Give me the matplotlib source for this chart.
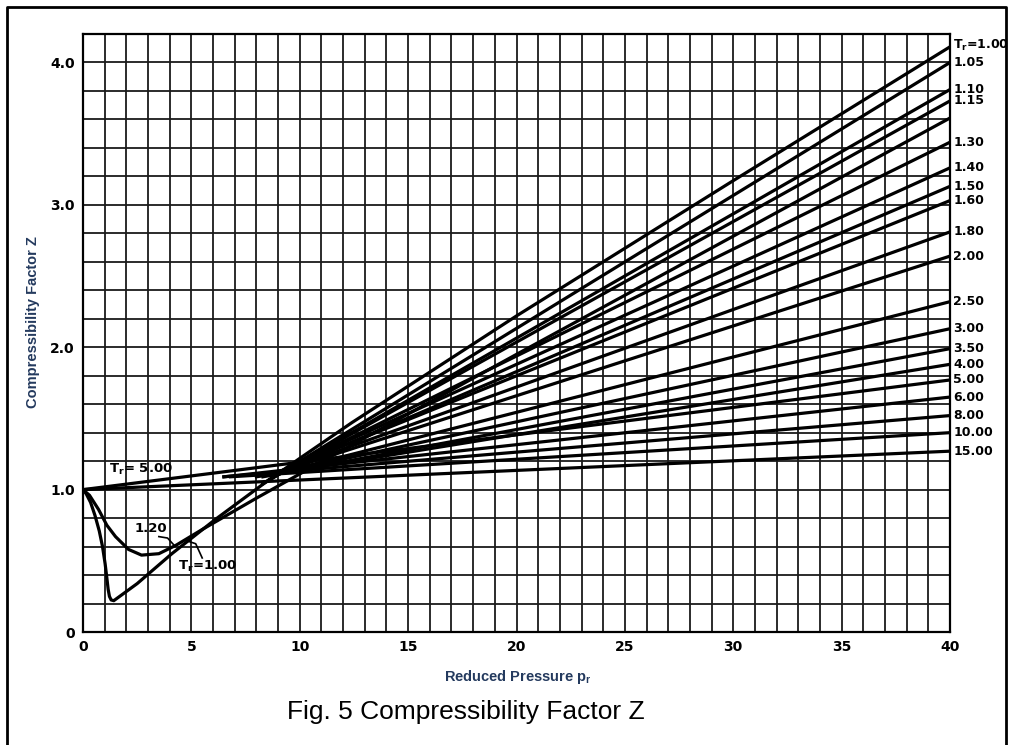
import numpy as np
import matplotlib.pyplot as plt
from matplotlib.lines import Line2D

# reduced temperature labels on the right edge and the value of Z at pr = 40
tr_labels = ['1.05', '1.10', '1.15', '1.30', '1.40', '1.50', '1.60', '1.80',
             '2.00', '2.50', '3.00', '3.50', '4.00', '5.00', '6.00', '8.00',
             '10.00', '15.00']
z_at_40 = [4.00, 3.81, 3.73, 3.44, 3.26, 3.13, 3.03, 2.81,
           2.64, 2.32, 2.13, 1.99, 1.88, 1.77, 1.65, 1.52,
           1.40, 1.27]
# where each straight line starts (pr, Z)
pr_start = [8.3, 8.5, 8.6, 8.7, 8.7, 8.8, 8.8, 8.8,
            8.8, 8.6, 8.5, 8.3, 8.0, 0.0, 6.5, 6.5,
            6.8, 0.0]
z_start = [1.04, 1.06, 1.07, 1.09, 1.10, 1.10, 1.11, 1.11,
           1.11, 1.10, 1.10, 1.09, 1.09, 1.00, 1.09, 1.09,
           1.09, 1.00]

# Tr = 1.00 curve
pr_100 = [0.0, 0.15, 0.35, 0.55, 0.75, 0.9, 1.02, 1.1, 1.16, 1.22, 1.3, 1.42,
          2.5, 4.1, 6.1, 8.5, 10.1, 12.4, 20.0, 30.0, 40.0]
z_100 = [1.00, 0.97, 0.91, 0.82, 0.71, 0.60, 0.48, 0.38, 0.30, 0.25, 0.225, 0.22,
         0.34, 0.55, 0.79, 1.06, 1.23, 1.47, 2.22, 3.17, 4.11]

# Tr = 1.20 curve
pr_120 = [0.0, 0.3, 0.72, 1.1, 1.5, 2.1, 2.7, 3.5, 4.3, 5.5, 8.0, 12.0, 20.0, 30.0, 40.0]
z_120 = [1.00, 0.96, 0.86, 0.75, 0.67, 0.58, 0.54, 0.55, 0.61, 0.72, 0.94, 1.28, 1.95, 2.78, 3.61]

fig = plt.figure(figsize=(10.14, 7.45), dpi=100)
ax = fig.add_axes([83/1014, 113/745, 867/1014, 598/745])

ax.set_xlim(0, 40)
ax.set_ylim(0, 4.2)
ax.set_xticks(np.arange(0, 41, 5))
ax.set_xticks(np.arange(0, 41, 1), minor=True)
ax.set_yticks([0, 1, 2, 3, 4])
ax.set_yticks(np.arange(0, 4.21, 0.2), minor=True)
ax.set_xticklabels(['0', '5', '10', '15', '20', '25', '30', '35', '40'])
ax.set_yticklabels(['0', '1.0', '2.0', '3.0', '4.0'])
ax.grid(which='both', color='#1a1a1a', lw=1.3)
ax.tick_params(which='both', length=0, labelsize=10, pad=6)
for lab in ax.get_xticklabels() + ax.get_yticklabels():
    lab.set_fontweight('bold')
for s in ax.spines.values():
    s.set_linewidth(1.6)

lw = 2.3
ax.plot(pr_100, z_100, color='k', lw=lw, solid_joinstyle='round')
ax.plot(pr_120, z_120, color='k', lw=lw, solid_joinstyle='round')
for i in range(len(tr_labels)):
    ax.plot([pr_start[i], 40], [z_start[i], z_at_40[i]], color='k', lw=lw)

# labels at the right edge
ax.text(40.15, 4.12, 'T$_\\mathregular{r}$=1.00', fontsize=9, fontweight='bold',
        va='center', ha='left', clip_on=False)
for lab, z in zip(tr_labels, z_at_40):
    ax.text(40.15, z, lab, fontsize=9, fontweight='bold', va='center', ha='left', clip_on=False)

# labels inside the plot
ax.text(1.2, 1.14, 'T$_\\mathregular{r}$= 5.00', fontsize=9.5, fontweight='bold', va='center', ha='left')
ax.text(2.4, 0.73, '1.20', fontsize=9.5, fontweight='bold', va='center', ha='left')
ax.text(4.4, 0.46, 'T$_\\mathregular{r}$=1.00', fontsize=9.5, fontweight='bold', va='center', ha='left')
ax.plot([3.5, 3.9, 4.2], [0.67, 0.66, 0.61], color='k', lw=1.2)
ax.plot([4.8, 5.2, 5.5], [0.64, 0.62, 0.52], color='k', lw=1.2)

fig.text(33/1014, 1 - 322/745, 'Compressibility Factor Z', rotation=90, ha='center', va='center',
         fontsize=10.5, fontweight='bold', color='#243a5e', family='Liberation Sans')
fig.text(518/1014, 1 - 677/745, 'Reduced Pressure p$_\\mathregular{r}$', ha='center', va='center',
         fontsize=10.5, fontweight='bold', color='#243a5e', family='Liberation Sans')
fig.text(466/1014, 1 - 712/745, 'Fig. 5 Compressibility Factor Z', ha='center', va='center',
         fontsize=19, color='black', family='Liberation Sans')

# outer frame
fig.add_artist(Line2D([7/1014, 7/1014, 1006/1014, 1006/1014], [0, 1 - 7/745, 1 - 7/745, 0],
                      color='k', lw=2, transform=fig.transFigure))

fig.savefig('out.png', dpi=100)
